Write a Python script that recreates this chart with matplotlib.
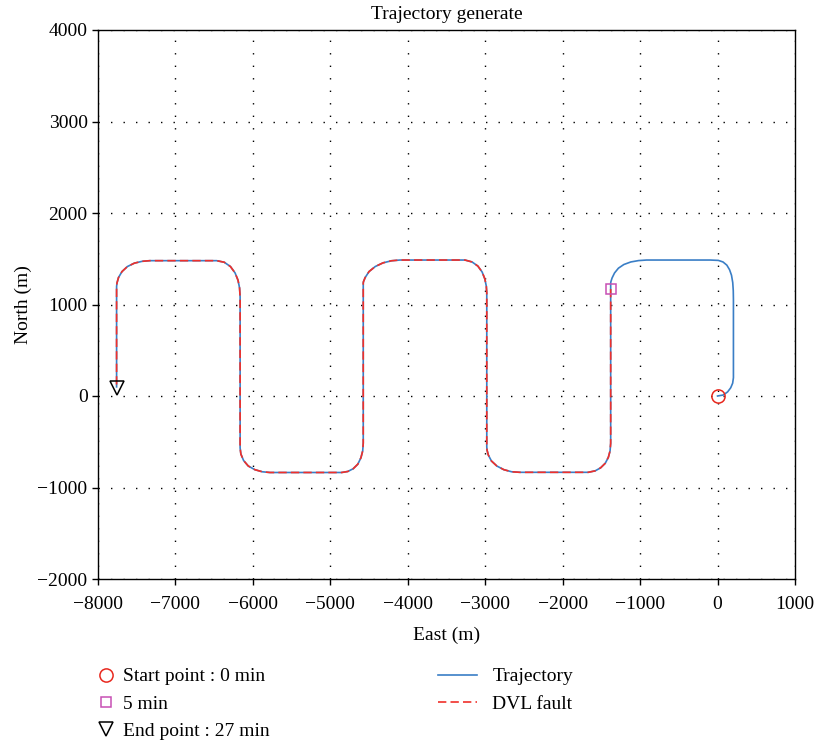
import matplotlib
matplotlib.use("Agg")
import matplotlib.pyplot as plt
from matplotlib.lines import Line2D

plt.rcParams['font.family'] = ['Liberation Serif', 'DejaVu Serif']
plt.rcParams['font.size'] = 14

# Trajectory (East, North) in metres
traj_east = [0, 74, 130, 170, 195, 205, 205,
             205, 203, 196, 180, 155, 120, 70, 10, -98,
             -916, -1020, -1120, -1210, -1280, -1330, -1362, -1377, -1380, -1380,
             -1380, -1388, -1410, -1450, -1510, -1580, -1670,
             -2552, -2660, -2760, -2850, -2920, -2960, -2977, -2980,
             -2980, -2986, -3005, -3040, -3095, -3170, -3262,
             -4100, -4210, -4320, -4420, -4500, -4550, -4572, -4575,
             -4575, -4582, -4605, -4645, -4705, -4775, -4854,
             -5780, -5880, -5975, -6060, -6120, -6155, -6165,
             -6165, -6172, -6192, -6230, -6290, -6370, -6468,
             -7330, -7430, -7530, -7620, -7690, -7735, -7755, -7760,
             -7760]
traj_north = [0, 11, 45, 90, 140, 200, 250,
              1049, 1150, 1240, 1320, 1380, 1430, 1465, 1482, 1486,
              1486, 1480, 1465, 1437, 1397, 1345, 1290, 1250, 1232, 1169,
              -516, -600, -670, -735, -785, -818, -834,
              -834, -828, -805, -765, -710, -645, -590, -554,
              1125, 1200, 1280, 1355, 1420, 1465, 1486,
              1486, 1478, 1455, 1415, 1360, 1295, 1250, 1235,
              -514, -600, -675, -745, -795, -825, -836,
              -836, -828, -805, -765, -705, -635, -568,
              1085, 1180, 1265, 1345, 1415, 1462, 1479,
              1479, 1472, 1452, 1415, 1360, 1295, 1235, 1195,
              100]

start_pt = (0, 0)
five_min_pt = (-1380, 1169)
end_pt = (-7760, 85)

xticks = [-8000, -7000, -6000, -5000, -4000, -3000, -2000, -1000, 0, 1000]
yticks = [-2000, -1000, 0, 1000, 2000, 3000, 4000]

# DVL fault starts at the 5 min point
fault_start_index = list(zip(traj_east, traj_north)).index(five_min_pt)

fig = plt.figure(figsize=(8.17, 7.44), dpi=100)
ax = fig.add_axes([98/817, 1-579/744, (795-98)/817, (579-30)/744])

blue = '#3a7ec6'
red = '#f0302a'

ax.plot(traj_east, traj_north, color=blue, lw=1.2, zorder=3,
        solid_joinstyle='round')
ax.plot(traj_east[fault_start_index:], traj_north[fault_start_index:],
        color=red, lw=1.2, dashes=(5, 2.5), zorder=4)

ax.plot([start_pt[0]], [start_pt[1]], 'o', ms=9.5, mfc='none', mec='#e8281e', mew=1.1, zorder=5)
ax.plot([five_min_pt[0]], [five_min_pt[1]], 's', ms=7, mfc='none', mec='#c84fb4', mew=1.1, zorder=5)
ax.plot([end_pt[0]], [end_pt[1]], 'v', ms=10, mfc='none', mec='black', mew=1.1, zorder=5)

ax.set_xlim(-8000, 1000)
ax.set_ylim(-2000, 4000)
ax.set_xticks(xticks)
ax.set_yticks(yticks)
ax.set_xticklabels(['\u2212%d' % (-v) if v < 0 else '%d' % v for v in xticks])
ax.set_yticklabels(['\u2212%d' % (-v) if v < 0 else '%d' % v for v in yticks])
ax.tick_params(direction='out', length=4, width=1, labelsize=14)
ax.tick_params(axis='x', pad=8)
ax.grid(True, color='black', linestyle=(0, (1, 8)), linewidth=1.0)
for s in ax.spines.values():
    s.set_linewidth(1.0)

ax.set_title('Trajectory generate', fontsize=14, pad=8)
ax.set_xlabel('East (m)', fontsize=14, labelpad=10)
ax.set_ylabel('North (m)', fontsize=14, labelpad=4)

h1 = [Line2D([], [], ls='none', marker='o', ms=9.5, mfc='none', mec='#e8281e', mew=1.1),
      Line2D([], [], ls='none', marker='s', ms=7, mfc='none', mec='#c84fb4', mew=1.1),
      Line2D([], [], ls='none', marker='v', ms=10, mfc='none', mec='black', mew=1.1)]
l1 = ['Start point : 0 min', '5 min', 'End point : 27 min']
h2 = [Line2D([], [], color=blue, lw=1.2),
      Line2D([], [], color=red, lw=1.2, dashes=(5, 2.5))]
l2 = ['Trajectory', 'DVL fault']

leg1 = fig.legend(h1, l1, loc='upper left', bbox_to_anchor=(88/817, 1-660/744),
                  frameon=False, handlelength=1.0, handletextpad=0.4,
                  labelspacing=0.5, fontsize=14, borderaxespad=0)
leg2 = fig.legend(h2, l2, loc='upper left', bbox_to_anchor=(430/817, 1-660/744),
                  frameon=False, handlelength=2.0, handletextpad=0.8,
                  labelspacing=0.5, fontsize=14, borderaxespad=0)

fig.savefig('out.png', dpi=100)
